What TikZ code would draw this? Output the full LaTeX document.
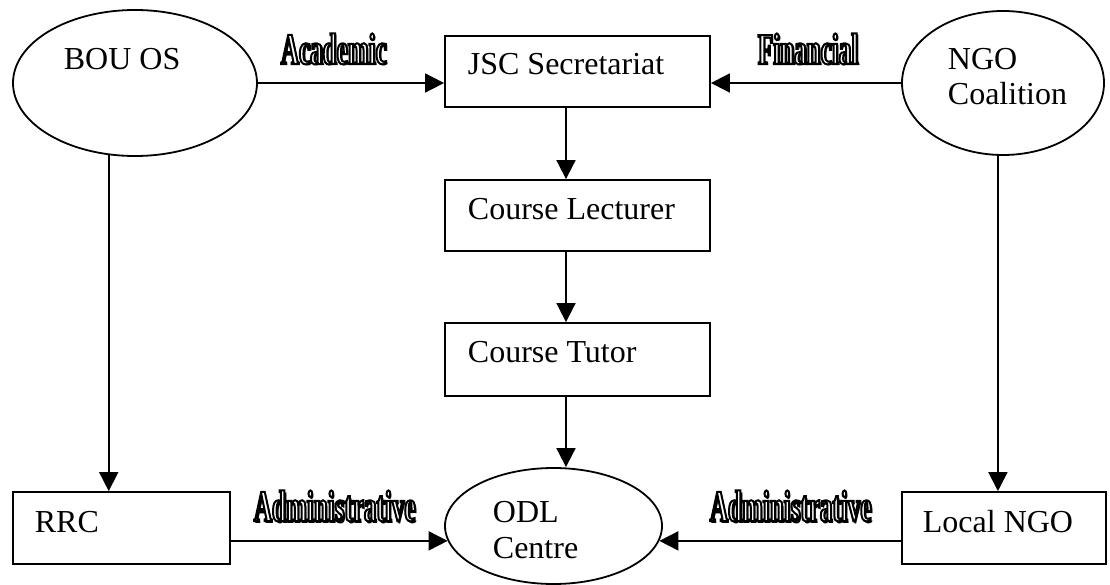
\documentclass[tikz,border=0pt]{standalone}
\usepackage{fontspec}
\setmainfont{Liberation Serif}
\newfontfamily\lblfont{Liberation Serif}[FakeStretch=0.57]
\usetikzlibrary{shapes.geometric,arrows.meta}
\newcommand\outlinetext[1]{\special{pdf:literal direct 2 Tr 2 w 0 G}#1\special{pdf:literal direct 0 Tr}}
\begin{document}
\begin{tikzpicture}[x=1pt,y=-1pt,
 line width=1.8pt,
 ell/.style={draw, ellipse, inner sep=0pt},
 box/.style={draw, rectangle, inner sep=0pt},
 txt/.style={anchor=base west, inner sep=0pt, font=\fontsize{32}{36}\selectfont},
 lbl/.style={anchor=base west, inner sep=0pt, font=\lblfont\bfseries\fontsize{44}{46}\selectfont},
 lbltop/.style={lbl, text=white},
 arr/.style={-{Triangle[length=19pt,width=19pt]}}]
\useasboundingbox (0,0) rectangle (1110,585);
% shapes
\node[ell, minimum width=244pt, minimum height=146pt] (bou) at (135,83) {};
\node[ell, minimum width=202pt, minimum height=144pt] (ngo) at (1003,83) {};
\node[ell, minimum width=217pt, minimum height=116pt] (odl) at (553.5,526) {};
\node[box, minimum width=265pt, minimum height=71pt] (jsc) at (577.5,71.5) {};
\node[box, minimum width=265pt, minimum height=71pt] (cl) at (577.5,215.5) {};
\node[box, minimum width=265pt, minimum height=73pt] (ct) at (577.5,359.5) {};
\node[box, minimum width=217pt, minimum height=72pt] (rrc) at (121.5,528) {};
\node[box, minimum width=204pt, minimum height=72pt] (lngo) at (1004,528) {};
% texts
\node[txt] (tbou) at (63,70) {BOU OS};
\node[txt] (tjsc) at (467,75) {JSC Secretariat};
\node[txt] (tngoa) at (947,70) {NGO};
\node[txt] (tngob) at (947,105) {Coalition};
\node[txt] (tcl) at (467,220) {Course Lecturer};
\node[txt] (tct) at (467,362) {Course Tutor};
\node[txt] (todla) at (492,522) {ODL};
\node[txt] (todlb) at (492,558) {Centre};
\node[txt] (trrc) at (34,532) {RRC};
\node[txt] (tlngo) at (922,532) {Local NGO};
% connectors
\draw[arr] (bou.east) -- (bou.east -| jsc.west);
\draw[arr] (ngo.west) -- (ngo.west -| jsc.east);
\draw[arr] ([xshift=-11.5pt]jsc.south) -- ([xshift=-11.5pt]cl.north);
\draw[arr] ([xshift=-11.5pt]cl.south) -- ([xshift=-11.5pt]ct.north);
\draw[arr] ([xshift=-11.5pt]ct.south) -- ([xshift=-11.5pt]ct.south |- odl.north);
\draw[arr] (bou.250.7) -- (bou.250.7 |- rrc.north);
\draw[arr] (ngo.266) -- (ngo.266 |- lngo.north);
\draw[arr] (rrc.east |- odl.188) -- (odl.188);
\draw[arr] (lngo.west |- odl.352) -- (odl.352);
% labels (shadow + outlined text)
\node[lbl] (lacads) at (282,66) {Academic};
\node[lbl] (lfins) at (759,66) {Financial};
\node[lbl] (ladmas) at (255,523) {Administrative};
\node[lbl] (ladmbs) at (711,523) {Administrative};
\node[lbltop] (lacad) at (280,64) {\outlinetext{Academic}};
\node[lbltop] (lfin) at (757,64) {\outlinetext{Financial}};
\node[lbltop] (ladma) at (253,521) {\outlinetext{Administrative}};
\node[lbltop] (ladmb) at (709,521) {\outlinetext{Administrative}};
\end{tikzpicture}
\end{document}
